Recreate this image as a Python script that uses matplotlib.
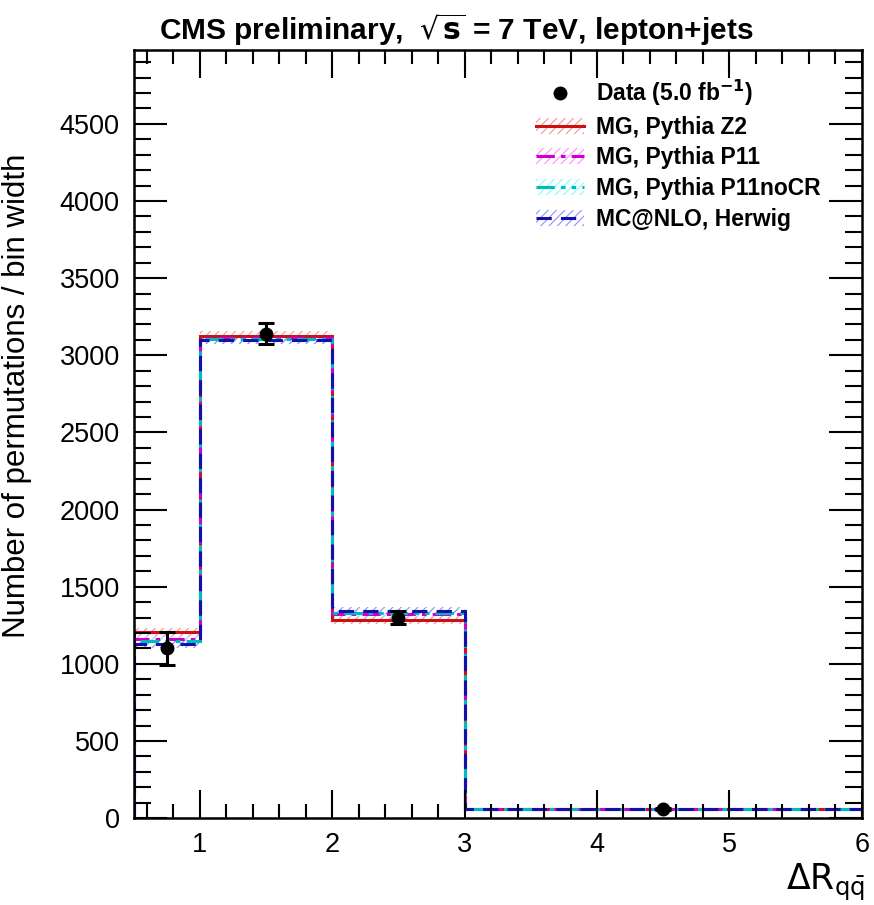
import numpy as np
import matplotlib
matplotlib.use("Agg")
import matplotlib.pyplot as plt
from matplotlib.patches import Patch
from matplotlib.lines import Line2D
from matplotlib.legend_handler import HandlerTuple
from matplotlib.ticker import MultipleLocator

plt.rcParams['font.family'] = ['Liberation Sans', 'DejaVu Sans']
plt.rcParams['hatch.linewidth'] = 0.8

# --- data ---
edges = [0.5, 1.0, 2.0, 3.0, 6.0]
data_x = [0.75, 1.5, 2.5, 4.5]
data_y = [1100, 3140, 1300, 58]
data_err = [105, 70, 40, 5]

mg_z2 = [1205, 3125, 1285, 58]
mg_p11 = [1160, 3110, 1320, 57]
mg_p11nocr = [1150, 3105, 1330, 57]
mcnlo_herwig = [1130, 3100, 1345, 56]
band_halfwidth = [25, 30, 25, 3]

labels = ["MG, Pythia Z2", "MG, Pythia P11", "MG, Pythia P11noCR", "MC@NLO, Herwig"]
models = [mg_z2, mg_p11, mg_p11nocr, mcnlo_herwig]
line_cols = ["#cc1111", "#cc00cc", "#00bbbb", "#1111aa"]
hatch_cols = ["#ff9090", "#ff90ff", "#80ffff", "#9090ff"]
styles = ["-", (0, (6, 2, 1.5, 2)), (0, (6, 2, 1.5, 2, 1.5, 2)), (0, (5, 3))]

fig = plt.figure(figsize=(8.74, 9.05), dpi=100)
ax = fig.add_axes([0.153, 0.096, 0.833, 0.849])

# uncertainty bands, then the step lines on top
for vals, hc in zip(models, hatch_cols):
    v = np.array(vals, dtype=float)
    hw = np.array(band_halfwidth, dtype=float)
    ax.stairs(v + hw, edges, baseline=v - hw, fill=True, facecolor="none",
              edgecolor=hc, hatch="////", linewidth=0)
for vals, lc, ls in zip(models, line_cols, styles):
    ax.stairs(vals, edges, baseline=0, color=lc, linestyle=ls, linewidth=2.2)

ax.errorbar(data_x, data_y, yerr=data_err, fmt="o", color="black", ms=9,
            elinewidth=2.2, capsize=6, capthick=2.2, zorder=10)

# legend
leg_handles = [Line2D([], [], marker="o", color="black", ls="none", ms=9)]
for lc, hc, ls in zip(line_cols, hatch_cols, styles):
    p = Patch(facecolor="none", edgecolor=hc, hatch="////", linewidth=0)
    l = Line2D([], [], color=lc, linestyle=ls, linewidth=2.2)
    leg_handles.append((p, l))
ax.legend(leg_handles, [r"Data (5.0 fb$^{\mathbf{-1}}$)"] + labels,
          handler_map={tuple: HandlerTuple(ndivide=1)},
          loc="upper left", bbox_to_anchor=(0.54, 0.975), frameon=False,
          prop={"weight": "bold", "size": 16.5}, handlelength=2.1,
          handletextpad=0.5, labelspacing=0.33, borderaxespad=0)

ax.set_xlim(0.5, 6.0)
ax.set_ylim(0, 4980)
ax.xaxis.set_major_locator(MultipleLocator(1))
ax.xaxis.set_minor_locator(MultipleLocator(0.2))
ax.yaxis.set_major_locator(MultipleLocator(500))
ax.yaxis.set_minor_locator(MultipleLocator(100))
ax.tick_params(which="both", direction="in", top=True, right=True, width=1.5,
               labelsize=19.5, pad=10)
ax.tick_params(axis="y", which="major", length=24)
ax.tick_params(axis="y", which="minor", length=12)
ax.tick_params(axis="x", which="major", length=20)
ax.tick_params(axis="x", which="minor", length=10)
for s in ax.spines.values():
    s.set_linewidth(1.8)

ax.set_ylabel("Number of permutations / bin width", fontsize=22.5)
ax.yaxis.set_label_coords(-0.14, 0.55)

fig.text(0.99, 0.025, r"$\mathsf{\Delta R_{q\bar{q}}}$", fontsize=25,
         ha="right", va="center")

fig.text(0.522, 0.967, r"CMS preliminary,  $\sqrt{\mathbf{s}}$ = 7 TeV, lepton+jets",
         ha="center", va="center", fontsize=21.5, fontweight="bold")

fig.savefig("out.png", dpi=100)
